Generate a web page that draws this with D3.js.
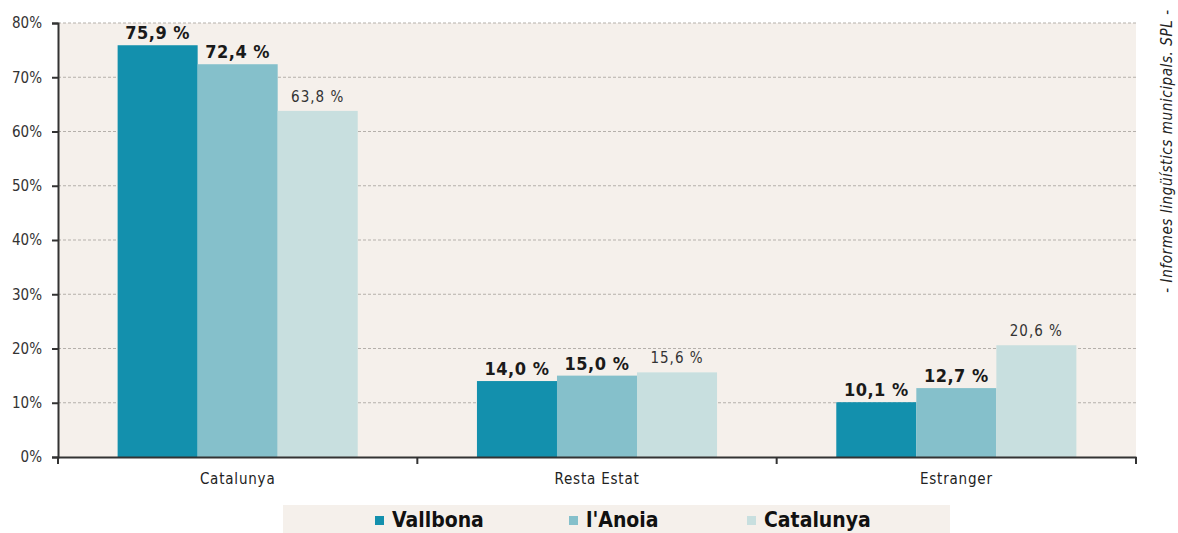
<!DOCTYPE html>
<html>
<head>
<meta charset="utf-8">
<script src="https://cdn.jsdelivr.net/npm/d3@7"></script>
<style>
  body { margin: 0; background: #fff; }
  svg text { font-family: "DejaVu Sans Condensed", "DejaVu Sans", sans-serif; }
</style>
</head>
<body>
<div id="chart"></div>
<script>
const categories = ["Catalunya", "Resta Estat", "Estranger"];
const seriesNames = ["Vallbona", "l'Anoia", "Catalunya"];
const vallbona = [75.9, 14.0, 10.1];
const anoia = [72.4, 15.0, 12.7];
const catalunya = [63.8, 15.6, 20.6];
const yTicks = [0, 10, 20, 30, 40, 50, 60, 70, 80];
const colors = ["#1390ad", "#85c0cb", "#c8dfdf"];

const width = 1178, height = 533;
const margin = { left: 58, right: 42, top: 23, bottom: 76 };
const x0Right = width - margin.right;
const yBottom = height - margin.bottom;

const svg = d3.select("#chart").append("svg")
  .attr("width", width)
  .attr("height", height);

const x = d3.scaleBand()
  .domain(categories)
  .range([margin.left, x0Right])
  .paddingInner(0)
  .paddingOuter(0);

const xs = d3.scaleBand()
  .domain(seriesNames.map((d, i) => i))
  .range([0, x.bandwidth()])
  .paddingInner(0)
  .paddingOuter(0.745);

const y = d3.scaleLinear()
  .domain([0, 80])
  .range([yBottom, margin.top]);

// plot background
svg.append("rect")
  .attr("x", margin.left)
  .attr("y", margin.top)
  .attr("width", x0Right - margin.left)
  .attr("height", yBottom - margin.top)
  .attr("fill", "#f5f0eb");

// gridlines
svg.append("g")
  .selectAll("line")
  .data(yTicks.filter(d => d > 0))
  .enter()
  .append("line")
  .attr("x1", margin.left)
  .attr("x2", x0Right)
  .attr("y1", d => y(d))
  .attr("y2", d => y(d))
  .attr("stroke", "#b5b0ab")
  .attr("stroke-dasharray", "3,2")
  .attr("stroke-width", 1);

const table = categories.map((c, i) => ({
  cat: c,
  vals: [vallbona[i], anoia[i], catalunya[i]]
}));

const groups = svg.selectAll(".grp")
  .data(table)
  .enter()
  .append("g")
  .attr("class", "grp")
  .attr("transform", d => `translate(${x(d.cat)},0)`);

groups.selectAll("rect")
  .data(d => d.vals)
  .enter()
  .append("rect")
  .attr("x", (d, i) => xs(i))
  .attr("y", d => y(d))
  .attr("width", xs.bandwidth())
  .attr("height", d => yBottom - y(d))
  .attr("fill", (d, i) => colors[i]);

groups.selectAll(".lbl")
  .data(d => d.vals)
  .enter()
  .append("text")
  .attr("class", "lbl")
  .attr("x", (d, i) => xs(i) + xs.bandwidth() / 2)
  .attr("y", (d, i) => y(d) - (i < 2 ? 6 : 9))
  .attr("text-anchor", "middle")
  .attr("font-size", (d, i) => i < 2 ? "18px" : "15px")
  .attr("font-weight", (d, i) => i < 2 ? "bold" : "normal")
  .attr("letter-spacing", (d, i) => i < 2 ? "0.5px" : "1px")
  .attr("fill", (d, i) => i < 2 ? "#1a1a1a" : "#333")
  .text(d => d.toFixed(1).replace(".", ",") + " %");

// y axis
const yAxis = svg.append("g")
  .attr("transform", `translate(${margin.left},0)`)
  .call(d3.axisLeft(y).tickValues(yTicks).tickSize(6).tickFormat(d => d + "%"));
yAxis.select(".domain").attr("stroke", "#333").attr("stroke-width", 2);
yAxis.selectAll(".tick line").attr("stroke", "#333").attr("stroke-width", 2);
yAxis.selectAll(".tick text")
  .attr("font-size", "15px")
  .attr("fill", "#333")
  .attr("x", -16)
  .style("font-family", "'DejaVu Sans Condensed', sans-serif");

// x axis
const xAxis = svg.append("g")
  .attr("transform", `translate(0,${yBottom})`)
  .call(d3.axisBottom(x).tickSize(0).tickSizeOuter(0));
xAxis.select(".domain").attr("stroke", "#333").attr("stroke-width", 2);
xAxis.selectAll(".tick text")
  .attr("font-size", "15px")
  .attr("letter-spacing", "0.8px")
  .attr("fill", "#222")
  .attr("dy", "0")
  .attr("y", 27)
  .style("font-family", "'DejaVu Sans Condensed', sans-serif");

// boundary ticks between categories
svg.append("g")
  .selectAll("line")
  .data(categories.concat(["end"]))
  .enter()
  .append("line")
  .attr("x1", (d, i) => i < categories.length ? x(d) : x0Right)
  .attr("x2", (d, i) => i < categories.length ? x(d) : x0Right)
  .attr("y1", yBottom)
  .attr("y2", yBottom + 7)
  .attr("stroke", "#333")
  .attr("stroke-width", 2);

// legend
const legend = svg.append("g");
legend.append("rect")
  .attr("x", 283)
  .attr("y", 505)
  .attr("width", 667)
  .attr("height", 28)
  .attr("fill", "#f5f0eb");

const legendX = [375, 569, 747];
const items = legend.selectAll(".item")
  .data(seriesNames)
  .enter()
  .append("g")
  .attr("class", "item")
  .attr("transform", (d, i) => `translate(${legendX[i]},0)`);
items.append("rect")
  .attr("x", 0)
  .attr("y", 516)
  .attr("width", 9)
  .attr("height", 9)
  .attr("fill", (d, i) => colors[i]);
items.append("text")
  .attr("x", 17)
  .attr("y", 527)
  .attr("font-size", "21px")
  .attr("font-weight", "bold")
  .attr("fill", "#111")
  .text(d => d);

// source note
svg.append("text")
  .attr("transform", "translate(1172,151) rotate(-90)")
  .attr("text-anchor", "middle")
  .attr("font-size", "15px")
  .attr("font-style", "italic")
  .attr("letter-spacing", "0.6px")
  .attr("fill", "#222")
  .text("- Informes lingüístics municipals. SPL -");
</script>
</body>
</html>
